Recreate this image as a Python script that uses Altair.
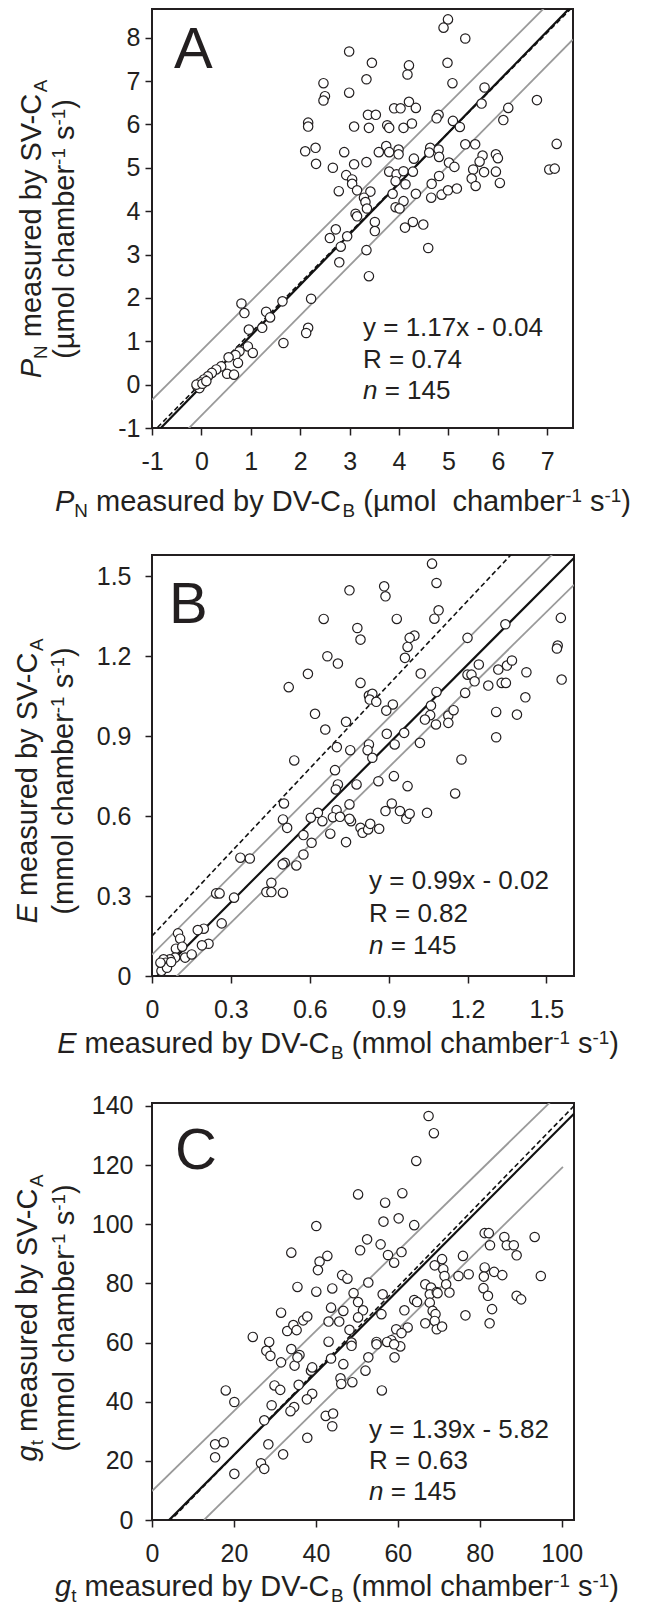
import altair as alt
import pandas as pd

FONT = "Liberation Sans"
INK = "#231f20"
GRAY = "#9a9a9a"

# ---------------- Panel A data (P_N) ----------------
A_X = [4.99, 4.90, 5.34, 2.99, 3.45, 4.98, 4.20, 4.17, 3.34, 2.47, 5.08, 2.99, 2.50, 2.47, 6.79, 5.73,
       5.67, 4.20, 6.21, 3.90, 4.03, 4.34, 3.37, 3.53, 4.80, 4.76, 2.16, 2.16, 3.39, 3.09, 3.76, 3.80,
       4.09, 4.26, 5.09, 5.23, 6.11, 2.10, 2.31, 2.32, 2.66, 2.89, 3.59, 3.74, 3.80, 3.99, 3.99, 4.30,
       4.63, 4.61, 4.80, 4.81, 5.34, 5.54, 5.69, 5.63, 5.96, 6.00, 7.19, 7.04, 7.15, 3.34, 3.09, 2.93,
       3.05, 3.05, 3.15, 2.78, 3.80, 3.95, 4.09, 4.28, 5.01, 5.12, 5.50, 5.47, 5.55, 5.72, 5.96, 6.04,
       4.66, 4.65, 4.86, 4.99, 5.17, 4.81, 3.93, 4.13, 3.87, 4.34, 3.42, 3.29, 3.32, 3.35, 4.09, 3.93,
       4.01, 3.12, 3.15, 3.51, 3.51, 4.12, 4.28, 4.49, 2.72, 2.60, 2.95, 2.82, 3.34, 4.59, 2.79, 3.39,
       0.81, 1.64, 2.22, 0.87, 1.31, 1.39, 0.96, 1.23, 2.16, 2.12, 1.66, 0.94, 1.04, 0.77, 0.69, 0.55,
       0.74, 0.40, 0.30, 0.21, 0.13, 0.05, -0.02, -0.09, -0.04, -0.10, 0.52, 0.66, 0.02, 0.10]
A_Y = [8.42, 8.23, 7.98, 7.68, 7.42, 7.42, 7.36, 7.15, 7.04, 6.95, 6.95, 6.73, 6.65, 6.55, 6.56, 6.85,
       6.48, 6.52, 6.38, 6.37, 6.37, 6.38, 6.22, 6.22, 6.22, 6.14, 6.04, 5.95, 5.92, 5.95, 5.98, 5.92,
       5.92, 6.02, 6.08, 5.94, 6.10, 5.38, 5.46, 5.09, 5.00, 5.36, 5.36, 5.50, 5.36, 5.42, 5.31, 5.21,
       5.46, 5.35, 5.42, 5.25, 5.54, 5.54, 5.28, 5.14, 5.31, 5.22, 5.55, 4.96, 4.98, 5.13, 5.08, 4.83,
       4.73, 4.63, 4.48, 4.46, 4.91, 4.85, 4.92, 4.91, 5.12, 5.02, 4.96, 4.75, 4.58, 4.90, 4.91, 4.65,
       4.63, 4.31, 4.38, 4.48, 4.52, 4.81, 4.69, 4.62, 4.40, 4.40, 4.45, 4.31, 4.21, 4.06, 4.23, 4.09,
       4.06, 3.94, 3.88, 3.75, 3.54, 3.62, 3.75, 3.69, 3.58, 3.38, 3.42, 3.18, 3.10, 3.15, 2.82, 2.50,
       1.87, 1.92, 1.98, 1.65, 1.68, 1.55, 1.27, 1.31, 1.31, 1.19, 0.96, 0.88, 0.73, 0.77, 0.68, 0.63,
       0.50, 0.42, 0.35, 0.27, 0.19, 0.12, 0.05, -0.04, -0.08, 0.00, 0.25, 0.23, 0.02, 0.08]
A_XTICKS = [-1, 0, 1, 2, 3, 4, 5, 6, 7]
A_YTICKS = [-1, 0, 1, 2, 3, 4, 5, 6, 7, 8]
A_LINE_KIND = ["gray", "gray", "dash", "solid"]
A_LINE_FROM = [-1.0, -1.0, -1.0, -1.0]
A_LINE_TO = [7.52, 7.52, 7.52, 7.52]
A_LINE_SLOPE = [1.138, 1.153, 1.154, 1.17]
A_LINE_ICPT = [0.788, -0.712, 0.039, -0.04]
A_EQ = "y = 1.17x - 0.04"
A_R = "R = 0.74"

# ---------------- Panel B data (E) ----------------
B_X = [1.065, 1.082, 0.751, 0.883, 0.888, 1.090, 1.074, 0.931, 0.653, 0.781, 0.793, 0.998, 0.980, 0.972,
       0.962, 1.200, 1.344, 1.555, 1.543, 1.540, 1.558, 0.667, 0.707, 0.593, 0.793, 0.520, 1.022, 1.200,
       1.215, 1.243, 1.227, 1.279, 1.317, 1.350, 1.369, 1.424, 1.330, 1.346, 1.420, 1.191, 1.082, 0.825,
       0.838, 0.828, 0.853, 0.916, 0.891, 1.061, 1.058, 1.038, 1.080, 1.127, 1.127, 1.147, 1.309, 1.388,
       1.309, 0.620, 0.738, 0.659, 0.893, 0.959, 0.825, 0.820, 0.923, 0.703, 0.754, 0.838, 1.019, 0.541,
       1.177, 0.696, 0.707, 0.699, 0.778, 0.861, 0.920, 0.972, 1.153, 0.502, 0.751, 0.912,
       0.498, 0.514, 0.631, 0.604, 0.648, 0.702, 0.688, 0.715, 0.757, 0.751, 0.793, 0.801, 0.822, 0.830,
       0.864, 0.888, 0.943, 0.967, 0.980, 1.046, 0.678, 0.738, 0.576, 0.607, 0.576, 0.549, 0.505, 0.497,
       0.454, 0.435, 0.454, 0.498, 0.372, 0.336, 0.312, 0.244, 0.257, 0.265, 0.197, 0.174, 0.215, 0.190,
       0.099, 0.107, 0.091, 0.115, 0.126, 0.151, 0.088, 0.068, 0.044, 0.052, 0.041, 0.036, 0.057, 0.073,
       0.032]
B_Y = [1.5475, 1.475, 1.4475, 1.4625, 1.425, 1.3725, 1.341, 1.340, 1.340, 1.306, 1.2625, 1.2775, 1.269,
       1.235, 1.194, 1.269, 1.320, 1.344, 1.240, 1.229, 1.1125, 1.200, 1.1725, 1.134, 1.100, 1.084, 1.135,
       1.131, 1.131, 1.169, 1.106, 1.090, 1.150, 1.165, 1.184, 1.140, 1.100, 1.100, 1.046, 1.0625, 1.066,
       1.0525, 1.059, 1.0375, 1.029, 1.019, 0.996, 1.015, 0.979, 0.9625, 0.944, 0.9775, 0.950, 0.9975,
       0.991, 0.981, 0.896, 0.984, 0.954, 0.925, 0.909, 0.9125, 0.869, 0.8475, 0.869, 0.859, 0.8475, 0.819,
       0.875, 0.809, 0.8125, 0.7725, 0.719, 0.700, 0.719, 0.731, 0.750, 0.7125, 0.685, 0.6475, 0.644, 0.6475,
       0.5875, 0.556, 0.6125, 0.594, 0.581, 0.6225, 0.596, 0.5975, 0.581, 0.590, 0.556, 0.5375, 0.550,
       0.571, 0.5525, 0.619, 0.619, 0.590, 0.609, 0.6125, 0.534, 0.5025, 0.529, 0.500, 0.456, 0.415, 0.425,
       0.419, 0.350, 0.315, 0.315, 0.3125, 0.441, 0.444, 0.294, 0.310, 0.310, 0.1975, 0.1775, 0.1725,
       0.121, 0.115, 0.160, 0.140, 0.1025, 0.110, 0.069, 0.081, 0.069, 0.0625, 0.0625, 0.050, 0.0375,
       0.019, 0.031, 0.0525, 0.050]
B_TICKS = [0, 0.3, 0.6, 0.9, 1.2, 1.5]
B_LINE_KIND = ["gray", "gray", "dash", "solid"]
B_LINE_FROM = [0.0, 0.0, 0.0, 0.0]
B_LINE_TO = [1.605, 1.605, 1.605, 1.605]
B_LINE_SLOPE = [0.987, 0.972, 1.048, 0.99]
B_LINE_ICPT = [0.08, -0.092, 0.15, -0.02]
B_EQ = "y = 0.99x - 0.02"
B_R = "R = 0.82"

# ---------------- Panel C data (g_t) ----------------
C_X = [67.5, 68.8, 64.5, 50.3, 61.1, 56.9, 56.5, 60.2, 64.0, 40.1, 52.5, 55.8, 50.8, 57.6, 60.9, 59.1,
       34.0, 42.8, 40.9, 40.5, 46.4, 47.7, 52.8, 35.5, 44.0, 40.1, 49.2, 50.3, 51.5, 50.3, 43.7, 46.7,
       43.1, 45.7, 48.2, 31.5, 33.0, 34.5, 35.3, 36.9, 37.9, 56.3, 56.0, 61.6, 62.4, 59.6, 60.9, 64.0,
       64.7, 66.7, 68.1, 67.8, 67.8, 69.5, 69.7, 68.5, 69.2, 69.0, 66.7, 69.5, 70.8, 69.0, 70.8, 71.1,
       71.4, 71.8, 72.6, 74.8, 75.9, 77.3, 76.5, 81.2, 82.2, 82.5, 81.2, 81.0, 80.9, 82.0, 83.0, 82.4,
       83.5, 85.5, 86.0, 86.6, 88.3, 89.0, 89.0, 90.1, 93.4, 94.9, 58.4, 57.4, 54.8, 48.7, 43.1, 24.6,
       28.6, 27.9, 28.9, 31.5, 34.0, 34.8, 36.0, 35.5, 38.8, 39.1, 35.8, 29.9, 31.3, 18.0, 20.1, 29.2,
       39.1, 37.8, 34.7, 33.8, 27.4, 43.7, 46.7, 46.0, 46.2, 48.9, 48.7, 52.8, 52.1, 56.1, 54.8, 59.2,
       60.6, 59.1, 42.4, 44.2, 44.0, 37.9, 28.4, 15.4, 17.5, 15.4, 32.0, 26.6, 27.4, 20.1]
C_Y = [136.6, 130.8, 121.4, 110.1, 110.5, 107.3, 100.9, 102.0, 99.7, 99.4, 94.9, 93.2, 91.2, 89.6, 90.6,
       87.0, 90.4, 89.3, 87.4, 84.5, 82.8, 81.6, 80.3, 78.8, 78.3, 77.2, 76.7, 73.7, 70.9, 68.5, 71.8, 70.7,
       67.1, 67.1, 64.3, 70.1, 63.9, 65.9, 64.2, 67.5, 68.8, 76.3, 69.6, 70.9, 65.1, 64.5, 63.2, 74.4, 73.7,
       79.7, 78.6, 76.3, 73.5, 77.1, 76.7, 70.7, 69.6, 67.3, 66.5, 64.5, 65.4, 86.1, 88.2, 84.8, 82.5, 79.7,
       76.9, 82.5, 89.3, 83.1, 69.2, 97.0, 97.0, 92.9, 85.4, 82.3, 78.4, 75.8, 71.3, 66.5, 83.9, 82.8, 95.7,
       92.9, 92.9, 89.5, 75.8, 74.6, 95.7, 82.5, 60.8, 60.2, 60.2, 60.0, 60.3, 61.9, 60.2, 57.2, 55.5, 53.3,
       57.8, 52.2, 55.8, 55.0, 50.5, 51.6, 45.7, 45.5, 44.0, 43.8, 39.9, 38.8, 42.7, 40.8, 38.2, 36.8, 33.7,
       54.6, 52.7, 47.9, 46.0, 46.6, 58.9, 55.0, 50.5, 43.8, 59.4, 55.0, 58.7, 59.4, 35.2, 36.0, 31.7, 27.8,
       25.6, 25.6, 26.3, 21.2, 22.2, 19.2, 17.3, 15.6]
C_XTICKS = [0, 20, 40, 60, 80, 100]
C_YTICKS = [0, 20, 40, 60, 80, 100, 120, 140]
C_LINE_KIND = ["gray", "gray", "dash", "solid"]
C_LINE_FROM = [0.0, 12.7, 0.0, 0.0]
C_LINE_TO = [103.0, 100.3, 103.0, 103.0]
C_LINE_SLOPE = [1.353, 1.363, 1.4228, 1.39]
C_LINE_ICPT = [9.8, -17.3, -6.54, -5.82]
C_EQ = "y = 1.39x - 5.82"
C_R = "R = 0.63"

N_VALUE = "145"

# ---------------- axis titles (rich text segments) ----------------
A_XTITLE = [("P", "i"), ("N", "sub"), (" measured by DV-C", "r"), ("B", "sub"),
            (" (µmol  chamber", "r"), ("-1", "sup"), (" s", "r"), ("-1", "sup"), (")", "r")]
A_YTITLE_1 = [("P", "i"), ("N", "sub"), (" measured by SV-C", "r"), ("A", "sub")]
A_YTITLE_2 = [("(µmol chamber", "r"), ("-1", "sup"), (" s", "r"), ("-1", "sup"), (")", "r")]
B_XTITLE = [("E", "i"), (" measured by DV-C", "r"), ("B", "sub"),
            (" (mmol chamber", "r"), ("-1", "sup"), (" s", "r"), ("-1", "sup"), (")", "r")]
B_YTITLE_1 = [("E", "i"), (" measured by SV-C", "r"), ("A", "sub")]
B_YTITLE_2 = [("(mmol chamber", "r"), ("-1", "sup"), (" s", "r"), ("-1", "sup"), (")", "r")]
C_XTITLE = [("g", "i"), ("t", "sub"), (" measured by DV-C", "r"), ("B", "sub"),
            (" (mmol chamber", "r"), ("-1", "sup"), (" s", "r"), ("-1", "sup"), (")", "r")]
C_YTITLE_1 = [("g", "i"), ("t", "sub"), (" measured by SV-C", "r"), ("A", "sub")]
C_YTITLE_2 = [("(mmol chamber", "r"), ("-1", "sup"), (" s", "r"), ("-1", "sup"), (")", "r")]

# ---------------- text layout helpers (Arial / Liberation Sans metrics) ----------------
W = {" ": 278, "(": 333, ")": 333, "-": 333, ".": 278, "=": 584, "µ": 576,
     "A": 667, "B": 667, "C": 722, "D": 722, "E": 667, "N": 722, "P": 667, "R": 722, "S": 667, "V": 667,
     "a": 556, "b": 556, "c": 500, "d": 556, "e": 556, "g": 556, "h": 556, "l": 222, "m": 833,
     "n": 556, "o": 556, "r": 333, "s": 500, "t": 278, "u": 556, "x": 500, "y": 500}
for _d in "0123456789":
    W[_d] = 556

TITLE_FS = 29
ANN_FS = 26
SMALL = 0.65
ONE = pd.DataFrame({"k": [0]})


def tw(s, fs):
    return sum(W.get(c, 556) for c in s) / 1000.0 * fs


def specs(segs, fs):
    """Return (text, size, shift, style, lead, width, trail) for each segment."""
    out = []
    for txt, kind in segs:
        size = fs * SMALL if kind in ("sub", "sup") else fs
        shift = 0.22 * fs if kind == "sub" else (-0.30 * fs if kind == "sup" else 0.0)
        style = "italic" if kind == "i" else "normal"
        core = txt.strip(" ")
        lead = (len(txt) - len(txt.lstrip(" "))) * W[" "] / 1000.0 * size
        trail = (len(txt) - len(txt.rstrip(" "))) * W[" "] / 1000.0 * size
        out.append((core, size, shift, style, lead, tw(core, size), trail))
    return out


def tlayer(txt, x, y, size, style="normal", angle=0):
    return alt.Chart(ONE).mark_text(
        text=txt.replace(" ", "\u00a0"), font=FONT, fontSize=size, fontStyle=style,
        angle=angle, align="left", baseline="alphabetic", color=INK
    ).encode(x=alt.value(x), y=alt.value(y))


def htext(segs, fs, x, y, center=False):
    sp = specs(segs, fs)
    if center:
        x = x - sum(s[4] + s[5] + s[6] for s in sp) / 2.0
    out = []
    for txt, size, shift, style, lead, w, trail in sp:
        x += lead
        out.append(tlayer(txt, x, y + shift, size, style))
        x += w + trail
    return out


def vtext(segs, fs, x, cy):
    sp = specs(segs, fs)
    y = cy + sum(s[4] + s[5] + s[6] for s in sp) / 2.0
    out = []
    for txt, size, shift, style, lead, w, trail in sp:
        y -= lead
        out.append(tlayer(txt, x + shift, y, size, style, angle=270))
        y -= w + trail
    return out


def axis(values, labelpad):
    return alt.Axis(values=values, labelExpr="'' + datum.value", title=None, domain=False, grid=False,
                    ticks=True, tickSize=7, tickWidth=1.5, tickColor=INK, labelFont=FONT,
                    labelFontSize=25, labelColor=INK, labelPadding=labelpad, labelFlush=False,
                    labelOverlap=False, labelBound=False)


def panel(px, py, xdom, ydom, xticks, yticks, kinds, xfrom, xto, slopes, icpts, width, height,
          letter, letter_xy, eq, rtxt, ann_x, ann_ys, xtitle, xt_cx, xt_dy,
          yt1, yt2, yt_cy, yt_x1, yt_x2, ylabpad):
    xs = alt.Scale(domain=xdom, nice=False, zero=False)
    ys = alt.Scale(domain=ydom, nice=False, zero=False)
    xa = axis(xticks, 14)
    ya = axis(yticks, ylabpad)
    pts = pd.DataFrame({"x": px, "y": py})
    ln = pd.DataFrame({
        "kind": kinds,
        "x0": xfrom,
        "x1": xto,
        "y0": [s * a + b for s, a, b in zip(slopes, xfrom, icpts)],
        "y1": [s * a + b for s, a, b in zip(slopes, xto, icpts)],
    })
    layers = []
    styles = {"gray": dict(color=GRAY, strokeWidth=1.8),
              "solid": dict(color="#111111", strokeWidth=2.2),
              "dash": dict(color="#111111", strokeWidth=1.6, strokeDash=[5, 3])}
    for k in ["gray", "dash", "solid"]:
        layers.append(
            alt.Chart(ln[ln["kind"] == k]).mark_rule(clip=True, **styles[k]).encode(
                x=alt.X("x0:Q", scale=xs, axis=xa), x2="x1",
                y=alt.Y("y0:Q", scale=ys, axis=ya), y2="y1")
        )
    layers.append(
        alt.Chart(pts).mark_point(shape="circle", filled=True, fill="white", stroke=INK,
                                  strokeWidth=1.2, size=88, opacity=1).encode(
            x=alt.X("x:Q", scale=xs, axis=xa), y=alt.Y("y:Q", scale=ys, axis=ya))
    )
    layers.append(tlayer(letter, letter_xy[0], letter_xy[1], 58))
    layers += htext([(eq, "r")], ANN_FS, ann_x, ann_ys[0])
    layers += htext([(rtxt, "r")], ANN_FS, ann_x, ann_ys[1])
    layers += htext([("n", "i"), (" = " + N_VALUE, "r")], ANN_FS, ann_x, ann_ys[2])
    layers += htext(xtitle, TITLE_FS, xt_cx, height + xt_dy, center=True)
    layers += vtext(yt1, TITLE_FS, yt_x1, yt_cy)
    layers += vtext(yt2, TITLE_FS, yt_x2, yt_cy)
    return alt.layer(*layers).properties(width=width, height=height)


pa = panel(A_X, A_Y, [-1, 7.52], [-1, 8.66], A_XTICKS, A_YTICKS,
           A_LINE_KIND, A_LINE_FROM, A_LINE_TO, A_LINE_SLOPE, A_LINE_ICPT, 421, 419,
           "A", (22, 59), A_EQ, A_R, 211, (327, 359, 390), A_XTITLE, 191, 83,
           A_YTITLE_1, A_YTITLE_2, 220, -111, -78, 5)
pb = panel(B_X, B_Y, [0, 1.605], [0, 1.58], B_TICKS, B_TICKS,
           B_LINE_KIND, B_LINE_FROM, B_LINE_TO, B_LINE_SLOPE, B_LINE_ICPT, 422, 421,
           "B", (17, 68), B_EQ, B_R, 217, (334, 367, 399), B_XTITLE, 186, 77,
           B_YTITLE_1, B_YTITLE_2, 226, -115, -79, 14)
pc = panel(C_X, C_Y, [0, 103], [0, 141], C_XTICKS, C_YTICKS,
           C_LINE_KIND, C_LINE_FROM, C_LINE_TO, C_LINE_SLOPE, C_LINE_ICPT, 422, 417,
           "C", (23, 66), C_EQ, C_R, 217, (335, 366, 397), C_XTITLE, 185, 76,
           C_YTITLE_1, C_YTITLE_2, 215, -115, -78, 12)

chart = alt.vconcat(pa, pb, pc, spacing=127, bounds="flush").properties(
    padding={"left": 5, "top": 0, "right": 0, "bottom": 0}
).configure_view(stroke=INK, strokeWidth=2)

chart.save("out.html", embed_options={"renderer": "svg", "actions": False})
